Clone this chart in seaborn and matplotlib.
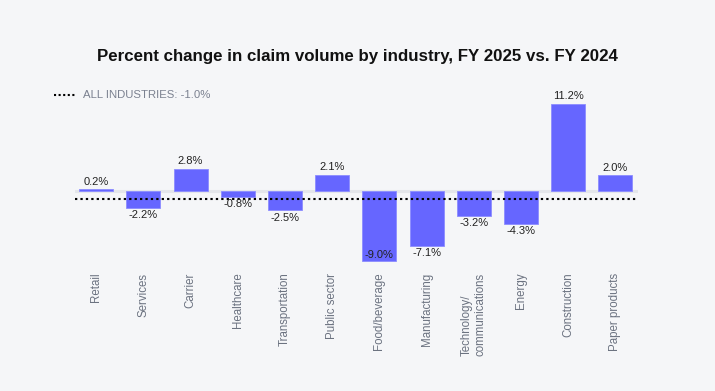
import matplotlib
matplotlib.use("Agg")
import matplotlib.pyplot as plt
import seaborn as sns
import pandas as pd
from matplotlib.lines import Line2D

industries = ["Retail", "Services", "Carrier", "Healthcare", "Transportation", "Public sector",
              "Food/beverage", "Manufacturing", "Technology/\ncommunications", "Energy",
              "Construction", "Paper products"]
pct_change = [0.2, -2.2, 2.8, -0.8, -2.5, 2.1, -9.0, -7.1, -3.2, -4.3, 11.2, 2.0]
all_industries = -1.0

sns.set_theme(style="white")
plt.rcParams["font.family"] = ["Liberation Sans", "DejaVu Sans"]

BG = "#f5f6f8"
BAR = "#6666ff"

df = pd.DataFrame({"industry": industries, "pct": pct_change})

fig = plt.figure(figsize=(7.15, 3.91), dpi=100, facecolor=BG)
ax = fig.add_axes([0.1049, 0.3207, 0.7874, 0.4353])
ax.set_facecolor(BG)

sns.barplot(data=df, x="industry", y="pct", color=BAR, width=0.72, ax=ax,
            saturation=1, edgecolor="#8c8cff", linewidth=0.6, zorder=3)

ymin, ymax = -9.6, 12.3
ax.set_xlim(-0.45, 11.48)
ax.set_ylim(ymin, ymax)

ax.axhline(0, color="#e4e6ea", lw=2.2, zorder=2)
ax.axhline(all_industries, color="black", lw=1.5, ls=(0, (1.1, 1.5)), zorder=4)

for i, v in enumerate(pct_change):
    if v >= 0:
        ax.annotate(f"{v:.1f}%", (i, v), xytext=(0, 2), textcoords="offset points",
                    ha="center", va="bottom", fontsize=8, color="#222222", zorder=5)
    elif v - 1.4 < ymin:
        # label would fall outside the plot: place it inside the bar end
        ax.annotate(f"{v:.1f}%", (i, v), xytext=(0, 1), textcoords="offset points",
                    ha="center", va="bottom", fontsize=8, color="#222222", zorder=5)
    else:
        ax.annotate(f"{v:.1f}%", (i, v), xytext=(0, -1.5), textcoords="offset points",
                    ha="center", va="top", fontsize=8, color="#222222", zorder=5)

for s in ax.spines.values():
    s.set_visible(False)
ax.set_yticks([])
ax.set_xlabel("")
ax.set_ylabel("")
ax.tick_params(axis="x", length=0, pad=5)
for lbl in ax.get_xticklabels():
    lbl.set_rotation(90)
    lbl.set_fontsize(8.3)
    lbl.set_color("#6b7280")
    lbl.set_va("top")
    lbl.set_ha("center")
    lbl.set_multialignment("left")

fig.text(0.5, 1 - 56/391, "Percent change in claim volume by industry, FY 2025 vs. FY 2024",
         ha="center", va="center", fontsize=12.2, fontweight="bold", color="#111111")

fig.add_artist(Line2D([54/715, 75/715], [1 - 95/391, 1 - 95/391], color="black", lw=1.5,
                      ls=(0, (1.0, 1.2)), transform=fig.transFigure))
fig.text(83/715, 1 - 95/391, "ALL INDUSTRIES: -1.0%", ha="left", va="center",
         fontsize=8.2, color="#7b8190")

fig.savefig("out.png", dpi=100, facecolor=BG)
